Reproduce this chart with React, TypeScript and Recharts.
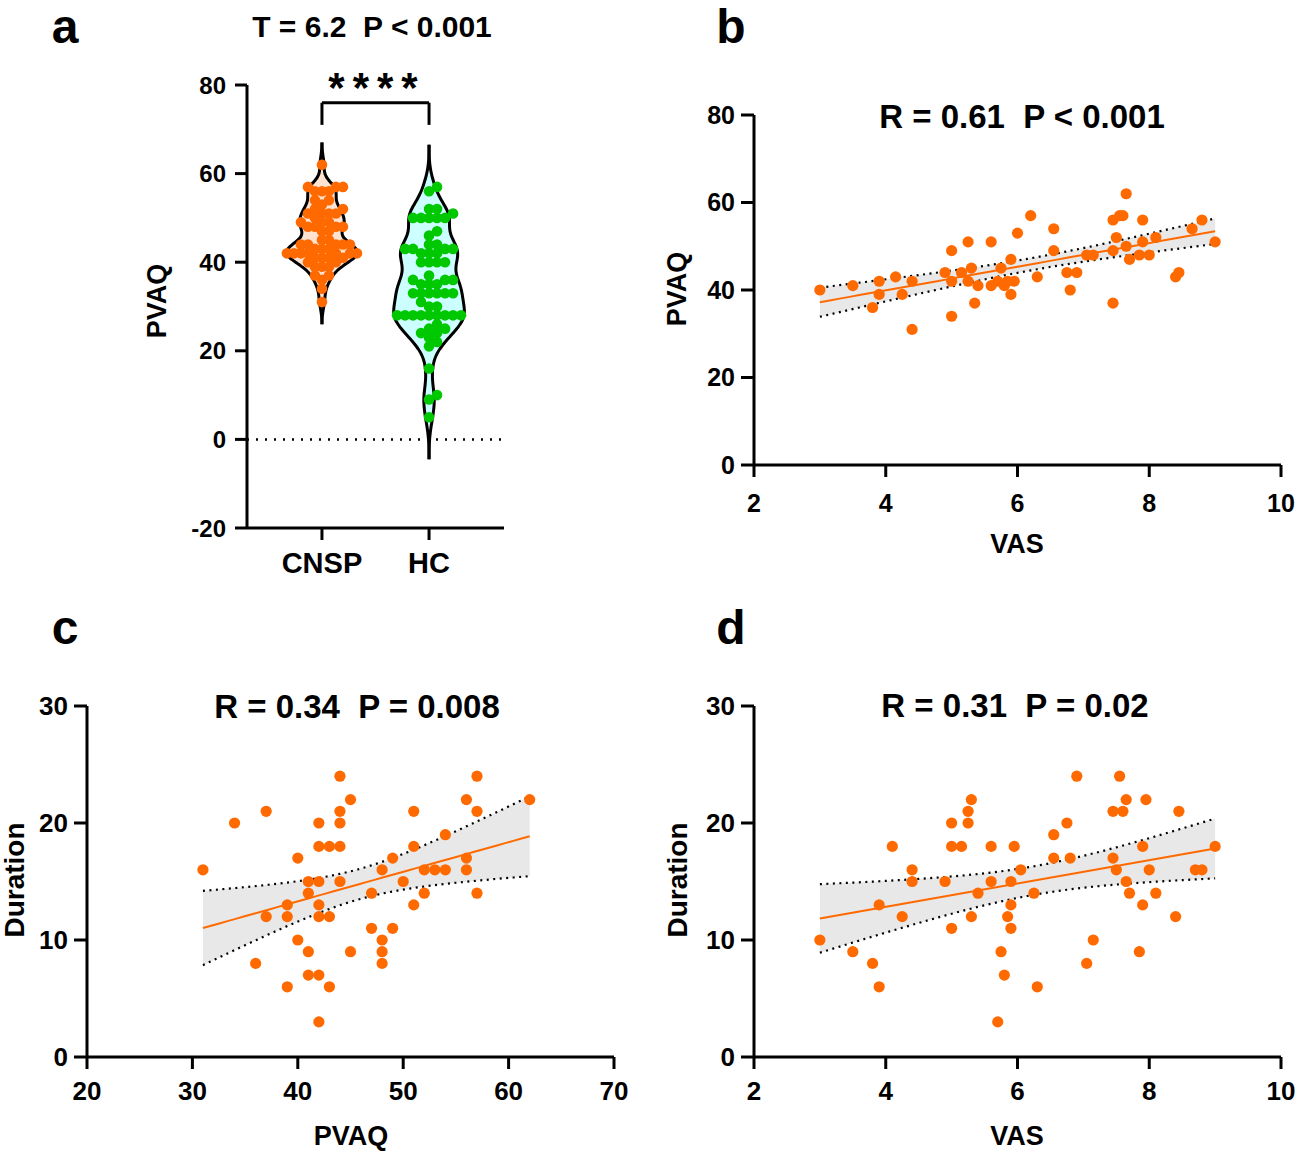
import React from "react"
import {
  ComposedChart,
  Area,
  Line,
  Scatter,
  XAxis,
  YAxis,
  ReferenceLine,
} from "recharts"

const FONT = '"Liberation Sans", Arial, Helvetica, sans-serif'
const ORANGE = "#FF6A00"
const GREEN = "#00C800"
const X_AXIS_H = 62

// panel a
const groups = ["CNSP", "HC"]
const hcPvaq = [
  57, 56, 52, 52, 51, 50, 50, 50, 50, 50, 47, 46, 44, 44, 43, 43, 43, 43, 42, 42,
  42, 40, 40, 40, 40, 37, 36, 36, 36, 35, 35, 35, 33, 33, 33, 33, 33, 33, 31, 30,
  30, 28, 28, 28, 28, 28, 28, 28, 28, 28, 26, 25, 25, 24, 24, 23, 22, 21, 16, 10,
  9, 5,
]

// panel b (patients: VAS vs PVAQ) — also the CNSP group in panel a
const bVas = [
  3, 3.5, 3.8, 3.9, 3.9, 4.15, 4.25, 4.4, 4.4, 4.9, 5, 5, 5, 5.15, 5.25, 5.3, 5.25,
  5.35, 5.4, 5.6, 5.6, 5.7, 5.75, 5.8, 5.85, 5.9, 5.9, 5.95, 6, 6.2, 6.3, 6.55,
  6.55, 6.75, 6.8, 6.9, 7.05, 7.15, 7.45, 7.45, 7.45, 7.5, 7.55, 7.6, 7.65, 7.65,
  7.7, 7.85, 7.9, 7.9, 8, 8.1, 8.4, 8.45, 8.65, 8.8, 9,
]
const bPvaq = [
  40, 41, 36, 42, 39, 43, 39, 42, 31, 44, 49, 42, 34, 44, 51, 45, 42, 37, 41, 51,
  41, 42, 45, 41, 42, 47, 39, 42, 53, 57, 43, 49, 54, 44, 40, 44, 48, 48, 37, 56,
  49, 52, 57, 57, 50, 62, 47, 48, 51, 56, 48, 52, 43, 44, 54, 56, 51,
]

// panel c (PVAQ vs Duration)
const cPvaq = [
  31, 34, 36, 37, 37, 39, 39, 39, 40, 40, 41, 41, 41, 41, 42, 42, 42, 42, 42, 42,
  42, 43, 43, 43, 44, 44, 44, 44, 44, 45, 45, 47, 47, 48, 48, 48, 48, 49, 49, 50,
  51, 51, 51, 52, 52, 53, 54, 54, 56, 56, 56, 57, 57, 57, 62,
]
const cDuration = [
  16, 20, 8, 21, 12, 13, 12, 6, 17, 10, 15, 14, 9, 7, 20, 18, 15, 13, 12, 7, 3, 18,
  12, 6, 24, 21, 20, 18, 15, 22, 9, 14, 11, 16, 10, 9, 8, 17, 11, 15, 21, 18, 13,
  16, 14, 16, 19, 16, 22, 17, 16, 24, 21, 14, 22,
]

// panel d (VAS vs Duration)
const dVas = [
  3, 3.5, 3.8, 3.9, 3.9, 4.1, 4.25, 4.4, 4.4, 4.9, 5, 5, 5, 5.15, 5.25, 5.25, 5.3,
  5.3, 5.4, 5.6, 5.6, 5.7, 5.75, 5.8, 5.85, 5.9, 5.9, 5.9, 5.95, 6.05, 6.25, 6.3,
  6.55, 6.55, 6.75, 6.8, 6.9, 7.05, 7.15, 7.45, 7.45, 7.5, 7.55, 7.6, 7.65, 7.65,
  7.7, 7.85, 7.9, 7.9, 7.95, 8, 8.1, 8.4, 8.45, 8.7, 8.8, 9,
]
const dDuration = [
  10, 9, 8, 6, 13, 18, 12, 16, 15, 15, 11, 18, 20, 18, 20, 21, 22, 12, 14, 18, 15,
  3, 9, 7, 12, 11, 13, 15, 18, 16, 14, 6, 17, 19, 20, 17, 24, 8, 10, 17, 21, 16, 24,
  21, 15, 22, 14, 9, 18, 13, 22, 16, 14, 12, 21, 16, 16, 18,
]

const T_CRIT = 2.0

function regression(xs: number[], ys: number[], steps = 40) {
  const n = xs.length
  const mx = xs.reduce((a, b) => a + b, 0) / n
  const my = ys.reduce((a, b) => a + b, 0) / n
  let sxx = 0
  let sxy = 0
  xs.forEach((x, i) => {
    sxx += (x - mx) ** 2
    sxy += (x - mx) * (ys[i] - my)
  })
  const slope = sxy / sxx
  const icpt = my - slope * mx
  let sse = 0
  xs.forEach((x, i) => {
    sse += (ys[i] - icpt - slope * x) ** 2
  })
  const s = Math.sqrt(sse / (n - 2))
  const x0 = Math.min(...xs)
  const x1 = Math.max(...xs)
  const rows = []
  for (let k = 0; k <= steps; k++) {
    const x = x0 + ((x1 - x0) * k) / steps
    const fit = icpt + slope * x
    const half = T_CRIT * s * Math.sqrt(1 / n + (x - mx) ** 2 / sxx)
    rows.push({ x, fit, lo: fit - half, hi: fit + half, band: [fit - half, fit + half] })
  }
  return rows
}

// kernel density outline for a violin
function violin(values: number[], bw: number, ext: number, center: number, halfWidth: number) {
  const lo = Math.min(...values) - ext
  const hi = Math.max(...values) + ext
  const steps = 140
  const pts = []
  for (let i = 0; i <= steps; i++) {
    const v = lo + ((hi - lo) * i) / steps
    let d = 0
    for (const x of values) d += Math.exp(-0.5 * ((v - x) / bw) ** 2)
    pts.push({ v, d })
  }
  const max = Math.max(...pts.map((p) => p.d))
  return pts.map((p) => ({
    v: p.v,
    range: [center - (p.d / max) * halfWidth, center + (p.d / max) * halfWidth],
  }))
}

// simple beeswarm placement (px space) -> x in axis units
function swarm(values: number[], center: number, pxX: number, pxY: number, minDist: number, step: number) {
  const sorted = [...values].sort((a, b) => a - b)
  const placed: { x: number; y: number }[] = []
  return sorted.map((v) => {
    const y = v * pxY
    let k = 0
    let off = 0
    for (;;) {
      off = k === 0 ? 0 : (k % 2 === 1 ? 1 : -1) * Math.ceil(k / 2) * step
      if (placed.every((p) => (p.x - off) ** 2 + (p.y - y) ** 2 >= minDist * minDist)) break
      k++
    }
    placed.push({ x: off, y })
    return { x: center + off / pxX, v }
  })
}

const dot = (color: string, r: number) => (p: any) =>
  <circle cx={p.cx} cy={p.cy} r={r} fill={color} />

const tickStyle = (size: number) => ({
  fill: "#000",
  fontSize: size,
  fontWeight: 700,
  fontFamily: FONT,
})
const axisStroke = { stroke: "#000", strokeWidth: 3 }

function Txt({ x, y, size, rotate, children, spacing }: any) {
  return (
    <div
      style={{
        position: "absolute",
        left: x,
        top: y,
        transform: `translate(-50%, -50%)${rotate ? " rotate(-90deg)" : ""}`,
        fontSize: size,
        fontWeight: 700,
        lineHeight: 1.1,
        whiteSpace: "pre",
        letterSpacing: spacing || 0,
        fontFamily: FONT,
        color: "#000",
      }}
    >
      {children}
    </div>
  )
}

interface PanelProps {
  xs: number[]
  ys: number[]
  left: number
  top: number
  plotLeft: number
  plotTop: number
  plotRight: number
  plotBottom: number
  xDomain: [number, number]
  xTicks: number[]
  yDomain: [number, number]
  yTicks: number[]
  xTickMargin: number
  fontSize: number
}

function ScatterPanel(p: PanelProps) {
  const fit = regression(p.xs, p.ys)
  const pts = p.xs.map((x, i) => ({ x, y: p.ys[i] }))
  const width = p.plotRight + 16 - p.left
  const height = p.plotBottom - p.top + X_AXIS_H
  return (
    <div style={{ position: "absolute", left: p.left, top: p.top }}>
      <ComposedChart
        width={width}
        height={height}
        margin={{ top: p.plotTop - p.top, right: 16, left: 0, bottom: 0 }}
      >
        <XAxis
          type="number"
          dataKey="x"
          domain={p.xDomain}
          ticks={p.xTicks}
          interval={0}
          height={X_AXIS_H}
          allowDataOverflow
          axisLine={axisStroke}
          tickLine={axisStroke}
          tickSize={12}
          tickMargin={p.xTickMargin}
          tick={tickStyle(p.fontSize)}
        />
        <YAxis
          type="number"
          dataKey="y"
          domain={p.yDomain}
          ticks={p.yTicks}
          interval={0}
          width={p.plotLeft - p.left}
          allowDataOverflow
          axisLine={axisStroke}
          tickLine={axisStroke}
          tickSize={13}
          tickMargin={6}
          tick={tickStyle(p.fontSize)}
        />
        <Area
          data={fit}
          dataKey="band"
          type="linear"
          fill="#E8E8E8"
          fillOpacity={1}
          stroke="none"
          isAnimationActive={false}
        />
        <Line
          data={fit}
          dataKey="hi"
          type="linear"
          stroke="#000"
          strokeWidth={2.2}
          strokeDasharray="2 4.5"
          dot={false}
          isAnimationActive={false}
        />
        <Line
          data={fit}
          dataKey="lo"
          type="linear"
          stroke="#000"
          strokeWidth={2.2}
          strokeDasharray="2 4.5"
          dot={false}
          isAnimationActive={false}
        />
        <Line
          data={fit}
          dataKey="fit"
          type="linear"
          stroke={ORANGE}
          strokeWidth={2}
          dot={false}
          isAnimationActive={false}
        />
        <Scatter data={pts} fill={ORANGE} shape={dot(ORANGE, 5.6)} isAnimationActive={false} />
      </ComposedChart>
    </div>
  )
}

function ViolinPanel() {
  const left = 150
  const top = 60
  const plotLeft = 247
  const plotTop = 85
  const plotRight = 504
  const plotBottom = 528
  const pxX = (plotRight - plotLeft) / 2.4
  const pxY = (plotBottom - plotTop) / 100
  const cnspViolin = violin(bPvaq, 1.8, 5, 1, 0.33)
  const hcViolin = violin(hcPvaq, 3.0, 9.5, 2, 0.33)
  const cnspDots = swarm(bPvaq, 1, pxX, pxY, 6.5, 3.5)
  const hcDots = swarm(hcPvaq, 2, pxX, pxY, 7.5, 4)
  return (
    <div style={{ position: "absolute", left, top }}>
      <ComposedChart
        layout="vertical"
        width={plotRight + 16 - left}
        height={plotBottom - top + X_AXIS_H}
        margin={{ top: plotTop - top, right: 16, left: 0, bottom: 0 }}
      >
        <XAxis
          type="number"
          dataKey="x"
          domain={[0.3, 2.7]}
          ticks={[1, 2]}
          interval={0}
          tickFormatter={(t: number) => groups[t - 1]}
          height={X_AXIS_H}
          allowDataOverflow
          axisLine={axisStroke}
          tickLine={axisStroke}
          tickSize={12}
          tickMargin={12}
          tick={tickStyle(29)}
        />
        <YAxis
          type="number"
          dataKey="v"
          reversed
          domain={[-20, 80]}
          ticks={[-20, 0, 20, 40, 60, 80]}
          interval={0}
          width={plotLeft - left}
          allowDataOverflow
          axisLine={axisStroke}
          tickLine={axisStroke}
          tickSize={12}
          tickMargin={9}
          tick={tickStyle(24)}
        />
        <ReferenceLine y={0} stroke="#000" strokeWidth={2.5} strokeDasharray="2 7" />
        <Area
          data={cnspViolin}
          dataKey="range"
          type="monotone"
          fill="#FFE3D0"
          fillOpacity={1}
          stroke="#000"
          strokeWidth={3}
          isAnimationActive={false}
        />
        <Area
          data={hcViolin}
          dataKey="range"
          type="monotone"
          fill="#CCFFFF"
          fillOpacity={1}
          stroke="#000"
          strokeWidth={3}
          isAnimationActive={false}
        />
        <Scatter data={cnspDots} fill={ORANGE} shape={dot(ORANGE, 5.3)} isAnimationActive={false} />
        <Scatter data={hcDots} fill={GREEN} shape={dot(GREEN, 5.3)} isAnimationActive={false} />
        <ReferenceLine segment={[{ x: 1, y: 76 }, { x: 2, y: 76 }]} stroke="#000" strokeWidth={3} />
        <ReferenceLine segment={[{ x: 1, y: 76 }, { x: 1, y: 71 }]} stroke="#000" strokeWidth={3} />
        <ReferenceLine segment={[{ x: 2, y: 76 }, { x: 2, y: 71 }]} stroke="#000" strokeWidth={3} />
      </ComposedChart>
    </div>
  )
}

export default function App() {
  return (
    <div
      style={{
        position: "fixed",
        left: 0,
        top: 0,
        width: 1298,
        height: 1151,
        overflow: "hidden",
        background: "#fff",
        fontFamily: FONT,
      }}
    >
      <ViolinPanel />
      <ScatterPanel
        xs={bVas}
        ys={bPvaq}
        left={640}
        top={90}
        plotLeft={754}
        plotTop={115}
        plotRight={1281}
        plotBottom={465}
        xDomain={[2, 10]}
        xTicks={[2, 4, 6, 8, 10]}
        yDomain={[0, 80]}
        yTicks={[0, 20, 40, 60, 80]}
        xTickMargin={17}
        fontSize={25}
      />
      <ScatterPanel
        xs={cPvaq}
        ys={cDuration}
        left={20}
        top={680}
        plotLeft={87}
        plotTop={706}
        plotRight={614}
        plotBottom={1057}
        xDomain={[20, 70]}
        xTicks={[20, 30, 40, 50, 60, 70]}
        yDomain={[0, 30]}
        yTicks={[0, 10, 20, 30]}
        xTickMargin={13}
        fontSize={26}
      />
      <ScatterPanel
        xs={dVas}
        ys={dDuration}
        left={640}
        top={680}
        plotLeft={754}
        plotTop={706}
        plotRight={1281}
        plotBottom={1057}
        xDomain={[2, 10]}
        xTicks={[2, 4, 6, 8, 10]}
        yDomain={[0, 30]}
        yTicks={[0, 10, 20, 30]}
        xTickMargin={13}
        fontSize={26}
      />

      <Txt x={65} y={27} size={48}>a</Txt>
      <Txt x={731} y={27} size={48}>b</Txt>
      <Txt x={65} y={628} size={48}>c</Txt>
      <Txt x={731} y={628} size={48}>d</Txt>

      <Txt x={372} y={26} size={30}>{"T = 6.2  P < 0.001"}</Txt>
      <Txt x={377} y={88} size={42} spacing={8}>****</Txt>
      <Txt x={1022} y={117} size={33}>{"R = 0.61  P < 0.001"}</Txt>
      <Txt x={357} y={707} size={33}>{"R = 0.34  P = 0.008"}</Txt>
      <Txt x={1015} y={706} size={33}>{"R = 0.31  P = 0.02"}</Txt>

      <Txt x={158} y={301} size={27} rotate>PVAQ</Txt>
      <Txt x={678} y={289} size={27} rotate>PVAQ</Txt>
      <Txt x={1017} y={545} size={27}>VAS</Txt>
      <Txt x={15} y={880} size={28} rotate>Duration</Txt>
      <Txt x={351} y={1137} size={27}>PVAQ</Txt>
      <Txt x={678} y={880} size={28} rotate>Duration</Txt>
      <Txt x={1017} y={1137} size={27}>VAS</Txt>
    </div>
  )
}
